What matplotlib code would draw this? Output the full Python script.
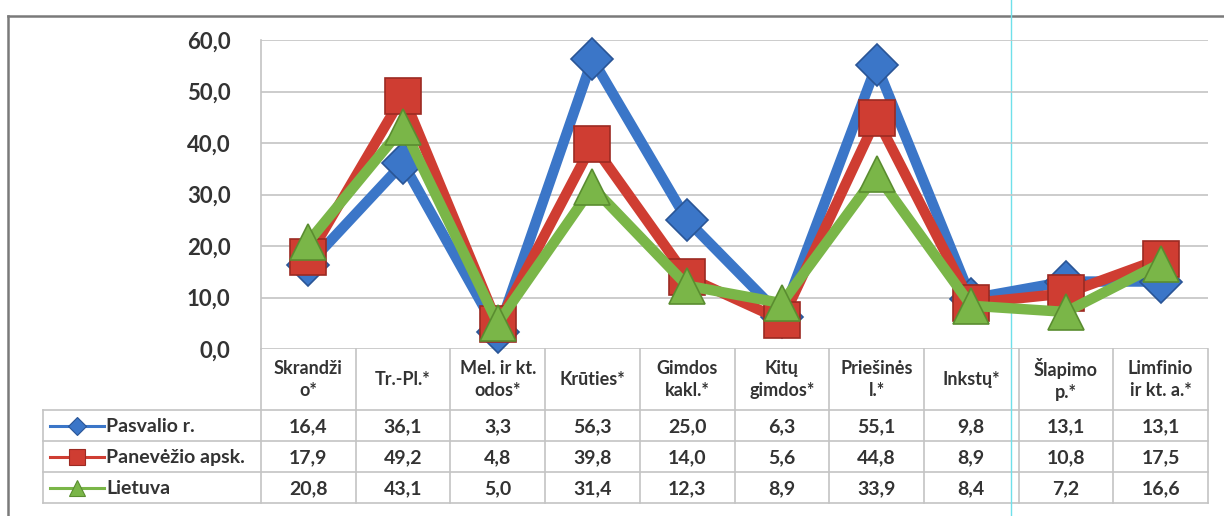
import matplotlib
matplotlib.use("Agg")
import matplotlib.pyplot as plt
from matplotlib.transforms import blended_transform_factory
from matplotlib.lines import Line2D

categories = ["Skrandži\no*", "Tr.-Pl.*", "Mel. ir kt.\nodos*", "Krūties*", "Gimdos\nkakl.*",
              "Kitų\ngimdos*", "Priešinės\nl.*", "Inkstų*", "Šlapimo\np.*", "Limfinio\nir kt. a.*"]
pasvalio = [16.4, 36.1, 3.3, 56.3, 25.0, 6.3, 55.1, 9.8, 13.1, 13.1]
panevezio = [17.9, 49.2, 4.8, 39.8, 14.0, 5.6, 44.8, 8.9, 10.8, 17.5]
lietuva = [20.8, 43.1, 5.0, 31.4, 12.3, 8.9, 33.9, 8.4, 7.2, 16.6]
series_names = ["Pasvalio r.", "Panevėžio apsk.", "Lietuva"]
y_ticks = [0, 10, 20, 30, 40, 50, 60]

series = [pasvalio, panevezio, lietuva]
colors = ["#3b76c8", "#cf3d32", "#7ab648"]
edge_colors = ["#2a5596", "#9c2a22", "#5a8d30"]
markers = ["D", "s", "^"]
msizes = [21, 26, 26]

W, H = 1224, 516
txt = "#333333"
grid_c = "#c4c4c4"
plt.rcParams["font.family"] = ["Lato", "DejaVu Sans"]

fig = plt.figure(figsize=(W / 100, H / 100), dpi=100)

# overlay in pixel coordinates for frame and table
ov = fig.add_axes([0, 0, 1, 1], zorder=0)
ov.set_xlim(0, W)
ov.set_ylim(H, 0)
ov.axis("off")

x0, x1 = 261, 1208
y_top, y_zero = 40, 349
ax = fig.add_axes([x0 / W, (H - y_zero) / H, (x1 - x0) / W, (y_zero - y_top) / H], zorder=2)
ax.patch.set_alpha(0)
n = len(categories)
ax.set_xlim(-0.5, n - 0.5)
ax.set_ylim(0, 60)
ax.set_yticks(y_ticks)
ax.set_yticklabels([f"{v:.1f}".replace(".", ",") for v in y_ticks],
                   fontsize=16, fontweight="bold", color=txt)
ax.tick_params(axis="y", length=0, pad=22)
ax.set_xticks([])
for s in ax.spines.values():
    s.set_visible(False)
ax.spines["left"].set_visible(True)
ax.spines["left"].set_color(grid_c)
ax.spines["left"].set_linewidth(1.2)
ax.yaxis.grid(True, color=grid_c, linewidth=1.2)
ax.set_axisbelow(True)

xs = list(range(n))
for vals, c, ec, m, ms in zip(series, colors, edge_colors, markers, msizes):
    ax.plot(xs, vals, color=c, linewidth=7.5, marker=m, markersize=ms,
            markerfacecolor=c, markeredgecolor=ec, markeredgewidth=1.2,
            solid_joinstyle="miter", clip_on=False)

# outer chart frame
ov.plot([8, W], [16, 16], color="#7a7a7a", linewidth=1.8)
ov.plot([8, 8], [16, H], color="#7a7a7a", linewidth=1.8)

# data table below the plot
tr = blended_transform_factory(ax.transData, ov.transData)
row_y = [349, 410, 441, 472, 503]
edges = [i - 0.5 for i in range(n + 1)]
for e in edges:
    ov.plot([e, e], [row_y[0], row_y[-1]], color=grid_c, linewidth=1.2, transform=tr)
for yy in row_y[1:]:
    ov.plot([43, x1], [yy, yy], color=grid_c, linewidth=1.2)
ov.plot([43, 43], [row_y[1], row_y[-1]], color=grid_c, linewidth=1.2)

for i, cat in enumerate(categories):
    ov.text(i, (row_y[0] + row_y[1]) / 2, cat, transform=tr, ha="center", va="center",
            fontsize=13, fontweight="bold", color=txt, linespacing=1.3)

for r, (vals, name, c, ec, m) in enumerate(zip(series, series_names, colors, edge_colors, markers)):
    yc = (row_y[r + 1] + row_y[r + 2]) / 2
    ov.add_line(Line2D([50, 104], [yc, yc], color=c, linewidth=2.2))
    ov.plot([77], [yc], marker=m, markersize=9 if m == "D" else 11, color=c,
            markeredgecolor=ec, markeredgewidth=0.8)
    ov.text(106, yc + 1, name, ha="left", va="center", fontsize=14,
            fontweight="bold", color=txt)
    for i, v in enumerate(vals):
        ov.text(i, yc + 1, f"{v:.1f}".replace(".", ","), transform=tr, ha="center",
                va="center", fontsize=14, fontweight="bold", color=txt)

# thin guide line
ov.plot([1011, 1011], [0, H], color="#6fe0ea", linewidth=1, zorder=5)

fig.savefig("out.png", dpi=100)
